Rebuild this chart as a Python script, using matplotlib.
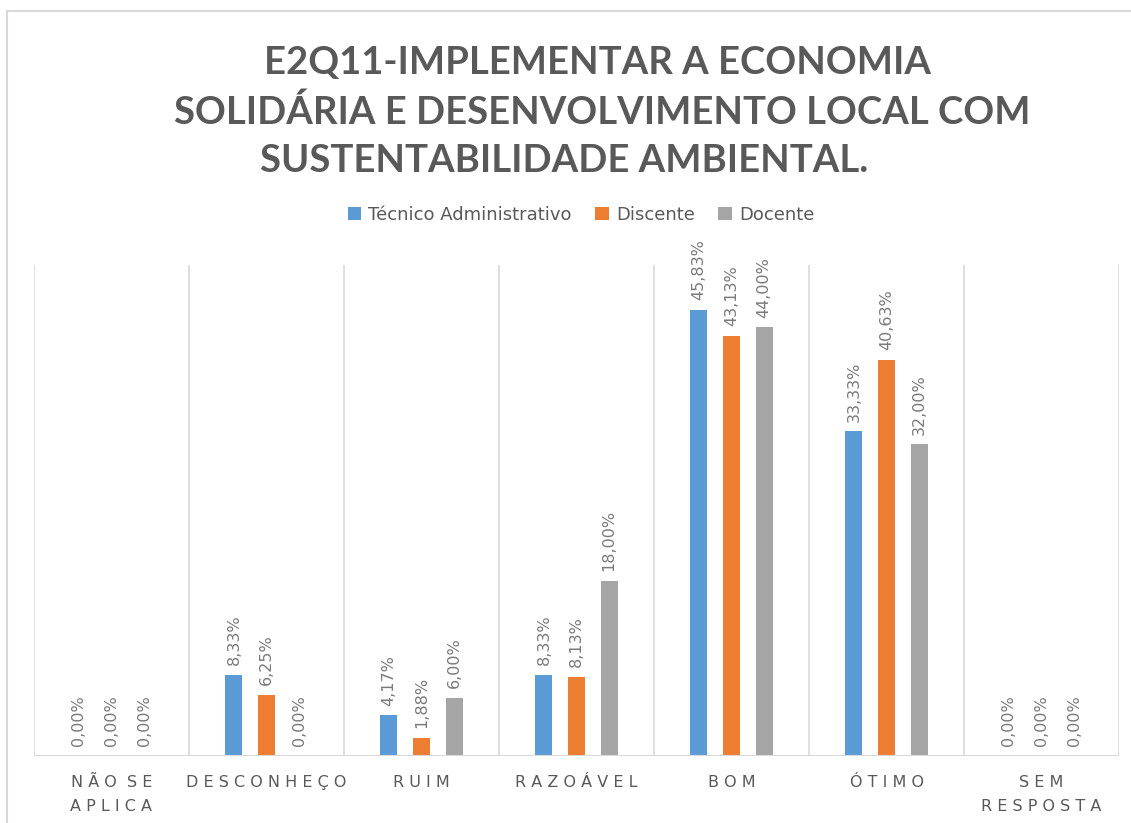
import matplotlib.pyplot as plt
import numpy as np
from matplotlib.lines import Line2D

categories = ["NÃO SE\nAPLICA", "DESCONHEÇO", "RUIM", "RAZOÁVEL", "BOM", "ÓTIMO", "SEM\nRESPOSTA"]
series_names = ["Técnico Administrativo", "Discente", "Docente"]
tecnico = [0.00, 8.33, 4.17, 8.33, 45.83, 33.33, 0.00]
discente = [0.00, 6.25, 1.88, 8.13, 43.13, 40.63, 0.00]
docente = [0.00, 0.00, 6.00, 18.00, 44.00, 32.00, 0.00]
title_lines = ["E2Q11-IMPLEMENTAR A ECONOMIA",
               "SOLIDÁRIA E DESENVOLVIMENTO LOCAL COM",
               "SUSTENTABILIDADE AMBIENTAL."]

colors = ["#5B9BD5", "#ED7D31", "#A5A5A5"]
text_gray = "#595959"
grid_gray = "#D9D9D9"


def spaced(s):
    # fake letter spacing: one space between letters, two between words
    return "\n".join("  ".join(" ".join(w) for w in line.split(" ")) for line in s.split("\n"))


fig = plt.figure(figsize=(11.31, 8.23), dpi=100)
ax = fig.add_axes([34 / 1131, 67 / 823, 1085 / 1131, 491 / 823])

x = np.arange(len(categories))
width = 0.11
step = 0.21
for i, (vals, name) in enumerate(zip([tecnico, discente, docente], series_names)):
    pos = x + (i - 1) * step
    ax.bar(pos, vals, width, color=colors[i], label=name, zorder=3)
    for p, v in zip(pos, vals):
        ax.annotate(f"{v:.2f}%".replace(".", ","), (p, v), xytext=(0, 7),
                    textcoords="offset points", rotation=90, ha="center", va="bottom",
                    fontsize=11.5, color="#7a7a7a")

ax.set_xlim(-0.5, len(categories) - 0.5)
ax.set_ylim(0, 50.4)
for g in np.arange(-0.5, len(categories), 1.0):
    ax.axvline(g, color=grid_gray, lw=1.2, zorder=1)
ax.axhline(0, color=grid_gray, lw=1.5, zorder=4)
for s in ax.spines.values():
    s.set_visible(False)
ax.set_yticks([])
ax.set_xticks([])

for xi, c in zip(x, categories):
    ax.annotate(spaced(c), (xi, 0), xytext=(0, -14), textcoords="offset points",
                ha="center", va="top", fontsize=11.5, color=text_gray, linespacing=1.75)

title_x = [598, 602, 564]
title_y = [63, 112, 161]
for t, tx, ty in zip(title_lines, title_x, title_y):
    fig.text(tx / 1131, 1 - ty / 823, t, ha="center", va="center", fontsize=27.5,
             fontweight="bold", color=text_gray, family="Lato")

fig.legend(loc="center", bbox_to_anchor=(581 / 1131, 1 - 215 / 823), ncol=3, frameon=False,
           fontsize=13, handlelength=0.75, handleheight=0.75, handletextpad=0.4,
           columnspacing=1.3, labelcolor=text_gray)

fig.add_artist(Line2D([7 / 1131, 7 / 1131], [0, 1 - 11 / 823], color=grid_gray, lw=1.5))
fig.add_artist(Line2D([7 / 1131, 1], [1 - 11 / 823, 1 - 11 / 823], color=grid_gray, lw=1.5))

fig.savefig("out.png", dpi=100)
